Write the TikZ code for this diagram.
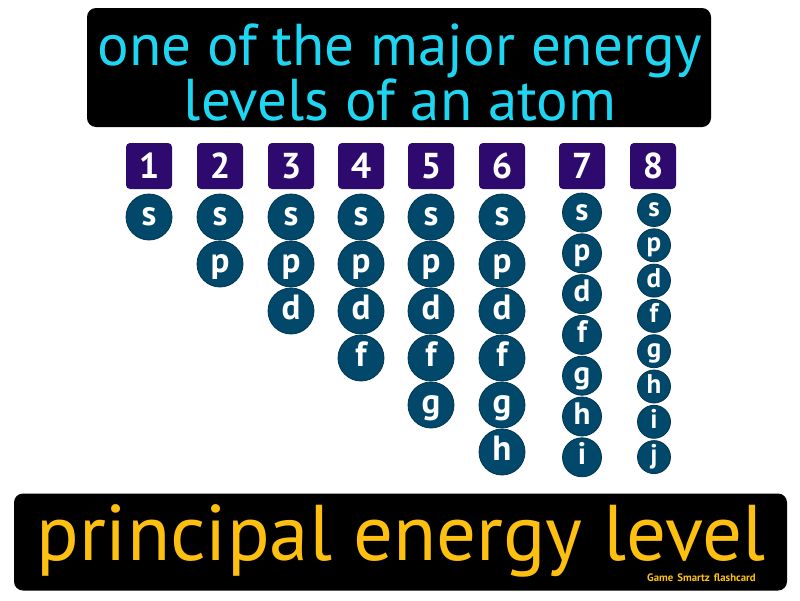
\documentclass[tikz,border=0pt]{standalone}
\usepackage{fontspec}
\setmainfont{PT Sans}
\definecolor{lvl}{HTML}{2E0A6E}
\definecolor{orb}{HTML}{01486B}
\definecolor{orbedge}{HTML}{003550}
\definecolor{cyantext}{HTML}{1ED6F2}
\definecolor{gold}{HTML}{FDC010}
\tikzset{
  blackbox/.style={fill=black, rounded corners=9pt, inner sep=0pt},
  lvlbox/.style={fill=lvl, rounded corners=4pt, minimum size=46pt, inner sep=0pt, text=white, font=\bfseries\fontsize{36}{36}\selectfont, text height=25pt, text depth=0pt},
  orbital/.style={circle, fill=orb, draw=orbedge, line width=0.8pt, inner sep=0pt, text=white, text depth=0pt},
  defline/.style={text=cyantext, font=\fontsize{59}{59}\selectfont, anchor=base, inner sep=0pt},
}
\begin{document}
\begin{tikzpicture}[x=1pt,y=-1pt]
\useasboundingbox (0,0) rectangle (800,600);
\fill[white] (0,0) rectangle (800,600);
% definition box
\node[blackbox, minimum width=624pt, minimum height=119pt] (defbox) at (399,67.5) {};
\node[defline] (def1) at (400,65) {one of the major energy};
\node[defline] (def2) at (400,120) {levels of an atom};
% term box
\node[blackbox, minimum width=773pt, minimum height=97pt] (termbox) at (400.5,542) {};
\node[text=gold, font=\fontsize{79}{79}\selectfont, anchor=base, inner sep=0pt, text depth=0pt] (term) at (401,560) {principal energy level};
\node[text=gold, font=\bfseries\fontsize{10.8}{10.8}\selectfont, anchor=base, inner sep=0pt] (brand) at (701.5,581) {Game\hspace{4pt}Smartz\hspace{4pt}flashcard};
% level numbers
\foreach \n/\x in {1/149,2/220,3/291,4/361,5/431,6/502,7/582,8/653}
  \node[lvlbox] (n\n) at (\x,166) {\n};
% orbitals columns 1-6
\foreach \n/\x/\letters in {1/149/{s},2/220/{s,p},3/291/{s,p,d},4/361/{s,p,d,f},5/431/{s,p,d,f,g},6/502/{s,p,d,f,g,h}}{
  \foreach \l [count=\i from 0] in \letters
    \node[orbital, minimum size=46pt, text height=17pt, font=\bfseries\fontsize{35}{35}\selectfont] (o\n\l) at (\x,{217+47*\i}) {\l};
}
% column 7
\foreach \l [count=\i from 0] in {s,p,d,f,g,h,i}
  \node[orbital, minimum size=39pt, text height=15pt, font=\bfseries\fontsize{31}{31}\selectfont] (o7\l) at (582,{212.5+40.8*\i}) {\l};
% column 8
\foreach \l [count=\i from 0] in {s,p,d,f,g,h,i,j}
  \node[orbital, minimum size=33pt, text height=13pt, font=\bfseries\fontsize{27}{27}\selectfont] (o8\l) at (654,{210+35.3*\i}) {\l};
\end{tikzpicture}
\end{document}
